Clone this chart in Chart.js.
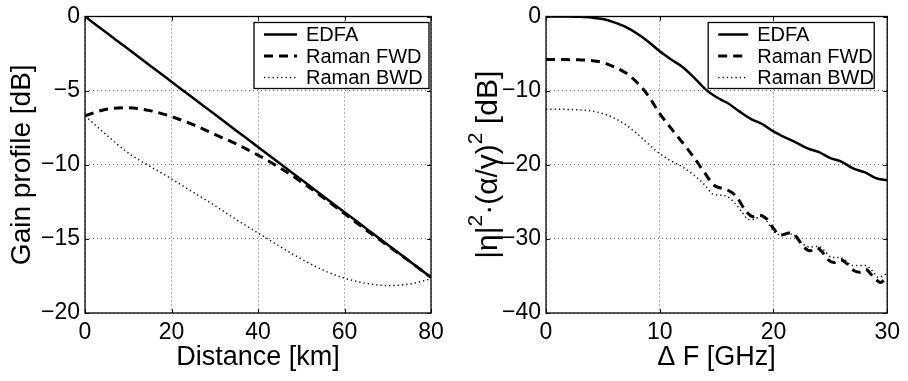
<!DOCTYPE html>
<html>
<head>
<meta charset="utf-8">
<script src="https://cdn.jsdelivr.net/npm/chart.js@4.4.1/dist/chart.umd.min.js"></script>
<style>
  html, body { margin: 0; padding: 0; background: #fff; }
  .panel { position: absolute; top: 0; width: 454px; height: 381px; }
</style>
</head>
<body>
<div class="panel" style="left:0"><canvas id="gainChart" width="454" height="381"></canvas></div>
<div class="panel" style="left:454px"><canvas id="etaChart" width="454" height="381"></canvas></div>
<script>
// ---- left panel: gain profile vs distance ----
const distKm = [0, 5, 10, 15, 20, 25, 30, 35, 40, 45, 50, 55, 60, 65, 70, 75, 80];
const gainEdfa = [0, -1.1, -2.2, -3.3, -4.4, -5.5, -6.6, -7.7, -8.8, -9.9, -11.0, -12.1, -13.2, -14.3, -15.4, -16.5, -17.6];
const gainFwd = [-6.7, -6.25, -6.15, -6.35, -6.75, -7.3, -7.95, -8.6, -9.35, -10.2, -11.15, -12.2, -13.3, -14.4, -15.45, -16.5, -17.6];
const gainBwd = [-6.7, -8.0, -9.2, -10.1, -10.95, -11.85, -12.75, -13.7, -14.6, -15.5, -16.35, -17.1, -17.65, -18.0, -18.15, -18.05, -17.7];

// ---- right panel: |eta|^2 (alpha/gamma)^2 vs frequency ----
const freqEdfa = [0, 1, 2, 3, 4, 5, 6, 7, 8, 9, 10, 11, 12, 13, 14, 15, 16, 17, 18, 19, 20, 21, 22, 23, 24, 25, 26, 27, 28, 29, 30];
const etaEdfa = [0, 0, 0, -0.05, -0.15, -0.35, -0.8, -1.4, -2.3, -3.4, -4.7, -5.8, -6.8, -8.2, -9.8, -10.9, -11.7, -12.8, -13.8, -14.5, -15.5, -16.3, -17.0, -17.8, -18.3, -19.1, -19.6, -20.5, -21.0, -21.8, -22.1];

const freqFwd = [0, 1, 2, 3, 4, 5, 6, 7, 8, 9, 10, 11, 12, 13, 14, 14.8, 15.5, 16.2, 16.8, 17.5, 18.2, 18.8, 19.4, 20.0, 20.6, 21.4, 22.0, 22.6, 23.2, 23.8, 24.3, 24.8, 25.3, 25.9, 26.5, 27.1, 27.6, 28.1, 28.6, 29.1, 29.4, 29.7, 30];
const etaFwd = [-5.8, -5.8, -5.82, -5.85, -5.95, -6.2, -6.8, -7.6, -8.9, -10.7, -13.1, -15.1, -17.0, -19.0, -21.2, -22.8, -23.2, -23.6, -24.4, -26.1, -27.0, -26.8, -27.3, -28.6, -29.5, -29.2, -29.7, -31.0, -31.6, -31.2, -31.8, -32.8, -33.2, -32.8, -33.4, -34.3, -34.5, -34.1, -34.8, -35.6, -35.9, -35.6, -35.0];

const freqBwd = [0, 1, 2, 3, 4, 5, 6, 7, 8, 9, 10, 11, 12, 13, 14, 14.6, 15.2, 15.8, 16.5, 17.2, 17.8, 18.4, 18.9, 19.4, 20.0, 20.7, 21.3, 21.9, 22.5, 23.2, 23.9, 24.5, 25.1, 25.7, 26.3, 26.9, 27.5, 28.1, 28.7, 29.2, 29.6, 30];
const etaBwd = [-12.5, -12.5, -12.55, -12.6, -12.75, -13.1, -13.7, -14.6, -15.8, -17.2, -18.5, -19.5, -20.3, -21.4, -22.8, -23.9, -24.1, -24.2, -25.0, -26.3, -27.4, -27.3, -26.9, -27.6, -28.9, -29.5, -29.3, -29.6, -30.6, -31.1, -31.0, -31.6, -32.5, -32.5, -32.8, -33.6, -33.6, -33.6, -34.3, -35.2, -35.0, -34.6];

const seriesNames = ["EDFA", "Raman FWD", "Raman BWD"];

// right y title as runs: [text, superscript?]
const etaTitleParts = [["|\u03b7|", false], ["2", true], ["\u00b7(\u03b1/\u03b3)", false], ["2", true], [" [dB]", false]];

const FONT = "'Liberation Sans', Arial, Helvetica, sans-serif";
const styles = [
  { borderWidth: 2.5, borderDash: [], borderColor: "#000" },
  { borderWidth: 3, borderDash: [9, 6], borderColor: "#000" },
  { borderWidth: 1.5, borderDash: [1.3, 3], borderColor: "#111" }
];

const toPoints = (xs, ys) => xs.map((v, i) => ({ x: v, y: ys[i] }));
const minusLabel = v => (v < 0 ? "\u2212" + Math.abs(v) : String(v));

// box frame, inward ticks, boxed legend and (optional) superscripted y title
const framePlugin = {
  id: "frame",
  afterDraw(chart) {
    const { ctx, chartArea: a, scales: { x, y } } = chart;
    const o = chart.options.plugins.frame;
    ctx.save();
    ctx.setLineDash([]);
    ctx.strokeStyle = "#000";
    ctx.lineWidth = 1;
    ctx.beginPath();
    x.ticks.forEach(t => {
      const px = Math.round(x.getPixelForValue(t.value)) + 0.5;
      ctx.moveTo(px, a.bottom); ctx.lineTo(px, a.bottom - 4);
      ctx.moveTo(px, a.top); ctx.lineTo(px, a.top + 4);
    });
    y.ticks.forEach(t => {
      const py = Math.round(y.getPixelForValue(t.value)) + 0.5;
      ctx.moveTo(a.left, py); ctx.lineTo(a.left + 4, py);
      ctx.moveTo(a.right, py); ctx.lineTo(a.right - 4, py);
    });
    ctx.stroke();
    ctx.lineWidth = 1.3;
    ctx.strokeRect(a.left, a.top, a.right - a.left, a.bottom - a.top);

    // legend
    const bx = a.right - o.rightGap - o.width, by = a.top + 6, bh = 66;
    ctx.fillStyle = "#fff";
    ctx.fillRect(bx, by, o.width, bh);
    ctx.lineWidth = 1.3;
    ctx.strokeRect(bx, by, o.width, bh);
    ctx.font = "20px " + FONT;
    ctx.textBaseline = "middle";
    ctx.textAlign = "left";
    chart.data.datasets.forEach((ds, i) => {
      const rowY = by + 12 + i * 21.5;
      ctx.strokeStyle = ds.borderColor;
      ctx.lineWidth = ds.borderWidth;
      ctx.setLineDash(ds.borderDash);
      ctx.beginPath();
      ctx.moveTo(bx + 10, rowY);
      ctx.lineTo(bx + 10 + o.sample, rowY);
      ctx.stroke();
      ctx.setLineDash([]);
      ctx.fillStyle = "#000";
      ctx.fillText(ds.label, bx + 10 + o.sample + 9, rowY + 1);
    });

    // y title with real superscripts
    if (o.titleParts) {
      const mainFont = "30px " + FONT, supFont = "21px " + FONT;
      let total = 0;
      o.titleParts.forEach(([txt, sup]) => { ctx.font = sup ? supFont : mainFont; total += ctx.measureText(txt).width; });
      ctx.translate(o.titleX, (a.top + a.bottom) / 2);
      ctx.rotate(-Math.PI / 2);
      ctx.textBaseline = "alphabetic";
      ctx.fillStyle = "#000";
      let u = -total / 2;
      o.titleParts.forEach(([txt, sup]) => {
        ctx.font = sup ? supFont : mainFont;
        ctx.fillText(txt, u, sup ? -15 : 0);
        u += ctx.measureText(txt).width;
      });
    }
    ctx.restore();
  }
};

function makeChart(id, datasets, xOpts, yOpts, padRight, legendOpts) {
  return new Chart(document.getElementById(id), {
    type: "line",
    data: {
      datasets: datasets.map((d, i) => ({
        label: seriesNames[i],
        data: d,
        pointRadius: 0,
        fill: false,
        cubicInterpolationMode: "monotone",
        ...styles[i]
      }))
    },
    options: {
      responsive: false,
      animation: false,
      layout: { padding: { top: 11, right: padRight, left: 0, bottom: 0 } },
      plugins: { legend: { display: false }, tooltip: { enabled: false }, frame: legendOpts },
      scales: {
        x: {
          type: "linear",
          min: xOpts.min, max: xOpts.max,
          afterFit: s => { s.height = 68; },
          border: { display: false, dash: [1, 3] },
          grid: { color: "rgba(0,0,0,0.6)", drawTicks: false, lineWidth: 1 },
          ticks: { stepSize: xOpts.step, padding: 8, color: "#000", font: { family: FONT, size: 23, lineHeight: 1 }, callback: minusLabel, maxRotation: 0 },
          title: { display: true, text: xOpts.title, color: "#000", font: { family: FONT, size: 27, lineHeight: 1 }, padding: { top: 0, bottom: 10 } }
        },
        y: {
          min: yOpts.min, max: yOpts.max,
          afterFit: s => { s.width = yOpts.width; },
          border: { display: false, dash: [1, 3] },
          grid: { color: "rgba(0,0,0,0.6)", drawTicks: false, lineWidth: 1 },
          ticks: { stepSize: yOpts.step, padding: 5, color: "#000", font: { family: FONT, size: 23, lineHeight: 1 }, callback: minusLabel },
          title: { display: !!yOpts.title, text: yOpts.title || "", color: "#000", font: { family: FONT, size: 28, lineHeight: 1 }, padding: { top: 8, bottom: 0 } }
        }
      }
    },
    plugins: [framePlugin]
  });
}

makeChart("gainChart",
  [toPoints(distKm, gainEdfa), toPoints(distKm, gainFwd), toPoints(distKm, gainBwd)],
  { min: 0, max: 80, step: 20, title: "Distance [km]" },
  { min: -20, max: 0, step: 5, title: "Gain profile [dB]", width: 85 },
  23, { width: 175, rightGap: 2, sample: 33 });

makeChart("etaChart",
  [toPoints(freqEdfa, etaEdfa), toPoints(freqFwd, etaFwd), toPoints(freqBwd, etaBwd)],
  { min: 0, max: 30, step: 10, title: "\u0394 F [GHz]" },
  { min: -40, max: 0, step: 10, title: null, width: 92 },
  16, { width: 166, rightGap: 13, sample: 30, titleX: 43, titleParts: etaTitleParts });
</script>
</body>
</html>
